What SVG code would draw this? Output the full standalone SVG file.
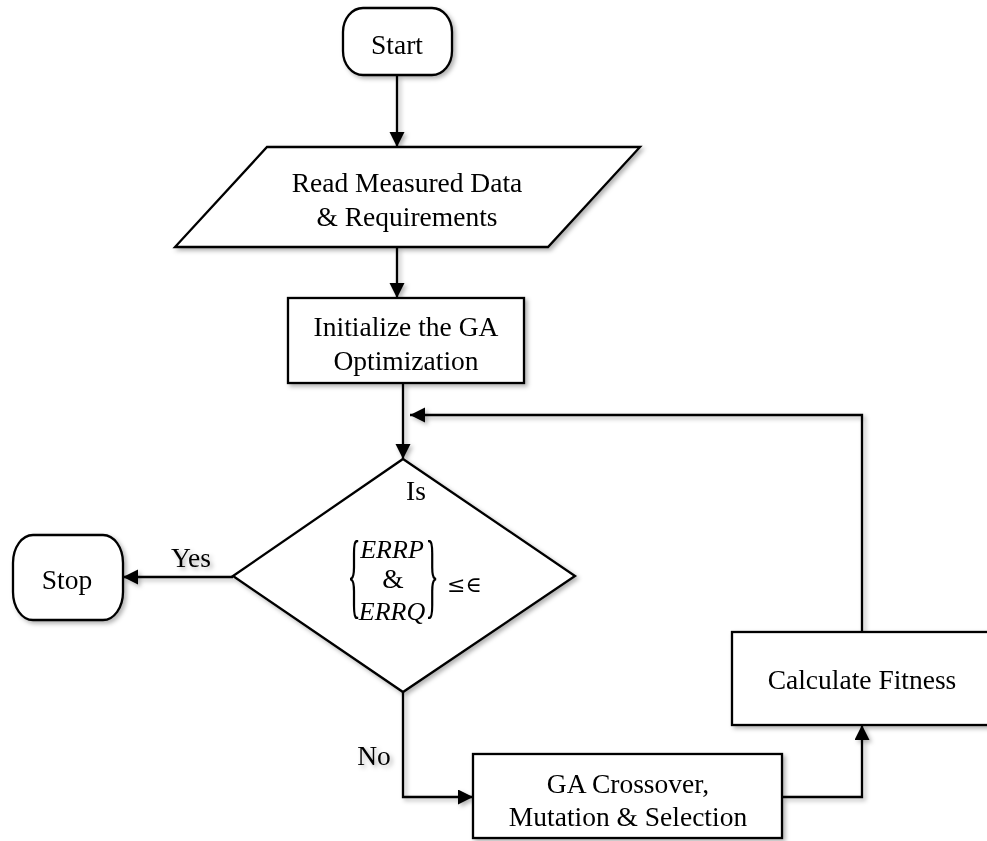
<svg xmlns="http://www.w3.org/2000/svg" width="987" height="841" viewBox="0 0 987 841">
<style>
.shape{fill:#fff;stroke:#000;stroke-width:2.3}
.conn{fill:none;stroke:#000;stroke-width:2.3}
.t{font-family:"Liberation Serif","DejaVu Serif",serif;font-size:27.5px;fill:#000;text-anchor:middle}
.m{font-family:"Liberation Serif","DejaVu Serif",serif;font-size:26px;font-style:italic;fill:#000;text-anchor:middle}
.s{font-family:"DejaVu Serif","Liberation Serif",serif;font-size:22px;fill:#000}
</style>
<defs>
<marker id="arr" markerUnits="userSpaceOnUse" markerWidth="17" markerHeight="16" refX="15" refY="7.5" orient="auto">
<path d="M0,0 L15,7.5 L0,15 z" fill="#000"/>
</marker>
<filter id="sh" x="-5%" y="-5%" width="110%" height="110%">
<feDropShadow dx="2.5" dy="2.5" stdDeviation="2.2" flood-color="#000" flood-opacity="0.3"/>
</filter>
</defs>
<rect width="987" height="841" fill="#fff"/>
<g filter="url(#sh)">
<g id="connectors">
<path class="conn" d="M397,75 V147" marker-end="url(#arr)"/>
<path class="conn" d="M397,247 V298" marker-end="url(#arr)"/>
<path class="conn" d="M403,383 V459" marker-end="url(#arr)"/>
<path class="conn" d="M233,577 H123" marker-end="url(#arr)"/>
<path class="conn" d="M403,692 V797 H473" marker-end="url(#arr)"/>
<path class="conn" d="M782,797 H862 V725" marker-end="url(#arr)"/>
<path class="conn" d="M862,632 V415 H410" marker-end="url(#arr)"/>
<text class="t" x="191" y="567">Yes</text>
<text class="t" x="374" y="765">No</text>
</g>
<g id="start">
<rect class="shape" x="343" y="8" width="109" height="67" rx="20" ry="24"/>
<text class="t" x="397" y="54">Start</text>
</g>
<g id="read">
<polygon class="shape" points="267,147 640,147 548,247 175,247"/>
<text class="t" x="407" y="192">Read Measured Data</text>
<text class="t" x="407" y="226">&amp; Requirements</text>
</g>
<g id="init">
<rect class="shape" x="288" y="298" width="236" height="85"/>
<text class="t" x="406" y="336">Initialize the GA</text>
<text class="t" x="406" y="370">Optimization</text>
</g>
<g id="decision">
<polygon class="shape" points="403,459 575,576 403,692 233,576"/>
<text class="t" x="416" y="500">Is</text>
<text class="t" transform="translate(354,606) scale(1,3.5)">{</text>
<text class="m" x="392" y="558">ERRP</text>
<text class="t" x="393" y="588">&amp;</text>
<text class="m" x="392" y="620">ERRQ</text>
<text class="t" transform="translate(432,606) scale(1,3.5)">}</text>
<text class="s" x="447" y="592">≤∈</text>
</g>
<g id="stop">
<rect class="shape" x="13" y="535" width="110" height="85" rx="20" ry="28"/>
<text class="t" x="67" y="589">Stop</text>
</g>
<g id="calc">
<rect class="shape" x="732" y="632" width="260" height="93"/>
<text class="t" x="862" y="689">Calculate Fitness</text>
</g>
<g id="ga">
<rect class="shape" x="473" y="754" width="309" height="84"/>
<text class="t" x="628" y="793">GA Crossover,</text>
<text class="t" x="628" y="826">Mutation &amp; Selection</text>
</g>
</g>
</svg>
